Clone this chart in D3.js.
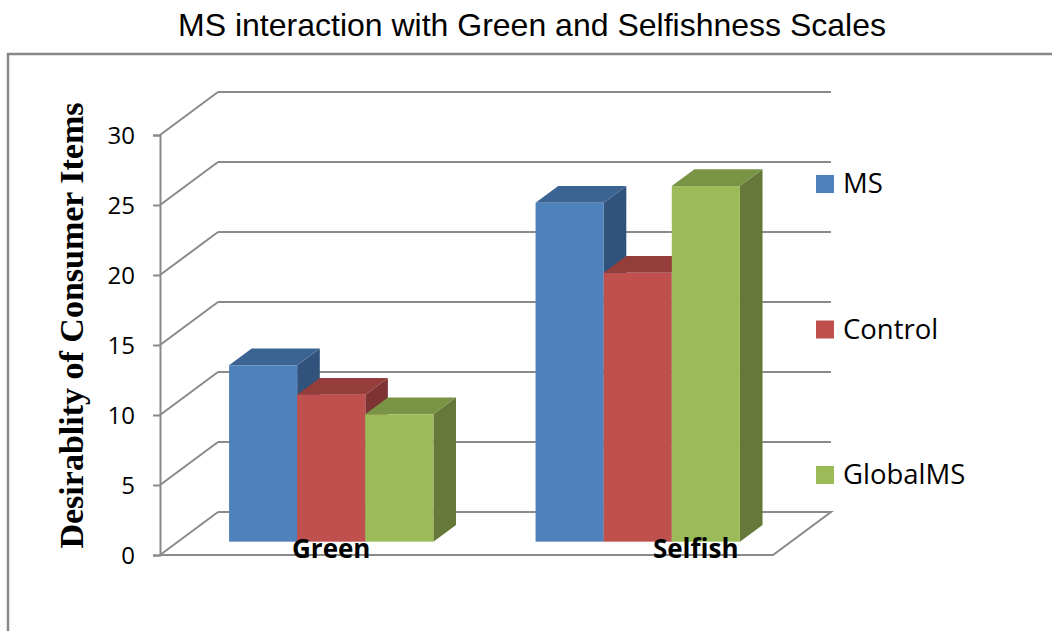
<!DOCTYPE html>
<html>
<head>
<meta charset="utf-8">
<script src="https://cdnjs.cloudflare.com/ajax/libs/d3/7.8.5/d3.min.js"></script>
<style>
  html, body { margin: 0; padding: 0; background: #fff; }
  svg { display: block; }
</style>
</head>
<body>
<svg id="chart" width="1052" height="631"></svg>
<script>
// ---- data ----
const categories = ["Green", "Selfish"];
const seriesNames = ["MS", "Control", "GlobalMS"];
const msValues = [12.6, 24.2];
const controlValues = [10.5, 19.2];
const globalMSValues = [9.1, 25.4];
const yTicks = [0, 5, 10, 15, 20, 25, 30];
const titleText = "MS interaction with Green and Selfishness Scales";
const yTitleText = "Desirablity of Consumer Items";

const seriesValues = [msValues, controlValues, globalMSValues];
const frontColors = ["#4F81BD", "#C0504D", "#9BBB59"];
const topColors = ["#3C6493", "#943D3A", "#7A9446"];
const sideColors = ["#31527A", "#7D3432", "#66793A"];

// ---- layout ----
const svg = d3.select("#chart");
const plotLeft = 160, plotRight = 773;
const yFront0 = 555, yFront30 = 135;
const depthDX = 58, depthDY = -43;
const barD0 = 0.31, barD1 = 0.70;
const gridColor = "#8a8a8a";

const y = d3.scaleLinear().domain([0, 30]).range([yFront0, yFront30]);
const x = d3.scaleBand().domain(categories).range([plotLeft, plotRight])
  .paddingInner(1 / 3).paddingOuter(1 / 6);
const xs = d3.scaleBand().domain(seriesNames).range([0, x.bandwidth()]);

function P(px, v, d) { return [px + d * depthDX, y(v) + d * depthDY]; }
const line = d3.line();

// chart area border
svg.append("rect").attr("x", 8).attr("y", 54).attr("width", 1200).attr("height", 800)
  .attr("fill", "none").attr("stroke", "#888").attr("stroke-width", 2.5);

// title
svg.append("text").attr("x", 532).attr("y", 36).attr("text-anchor", "middle")
  .attr("font-family", "Liberation Sans, Arial, sans-serif").attr("font-size", 32)
  .attr("fill", "#000").text(titleText);

const g = svg.append("g");

// back wall gridlines & left wall diagonals
yTicks.forEach(t => {
  if (t > 0) {
    g.append("path").attr("d", line([P(plotLeft, t, 1), P(plotRight, t, 1)]))
      .attr("stroke", gridColor).attr("stroke-width", 2).attr("fill", "none");
  }
  g.append("path").attr("d", line([P(plotLeft, t, 0), P(plotLeft, t, 1)]))
    .attr("stroke", gridColor).attr("stroke-width", 2).attr("fill", "none");
});
// floor
g.append("path").attr("d", line([P(plotLeft, 0, 1), P(plotRight, 0, 1), P(plotRight, 0, 0), P(plotLeft, 0, 0)]))
  .attr("stroke", gridColor).attr("stroke-width", 2).attr("fill", "none");

// y axis
const yAxis = d3.axisLeft(y).tickValues(yTicks).tickSize(7).tickPadding(18);
const ya = g.append("g").attr("transform", `translate(${plotLeft},0)`).call(yAxis);
ya.select(".domain").attr("stroke", gridColor).attr("stroke-width", 2);
ya.selectAll(".tick line").attr("stroke", gridColor).attr("stroke-width", 2);
ya.selectAll(".tick text").attr("font-family", "Open Sans, sans-serif").attr("font-size", 24)
  .attr("fill", "#000").attr("dy", "0.36em");

// bars
const barsG = svg.append("g");
categories.forEach((cat, ci) => {
  seriesNames.forEach((s, si) => {
    const v = seriesValues[si][ci];
    const x0 = x(cat) + xs(s), x1 = x0 + xs.bandwidth();
    const bg = barsG.append("g");
    // side
    bg.append("path").attr("d", line([P(x1, 0, barD0), P(x1, 0, barD1), P(x1, v, barD1), P(x1, v, barD0)]) + "Z")
      .attr("fill", sideColors[si]);
    // top
    bg.append("path").attr("d", line([P(x0, v, barD0), P(x1, v, barD0), P(x1, v, barD1), P(x0, v, barD1)]) + "Z")
      .attr("fill", topColors[si]);
    // front
    const a = P(x0, v, barD0), b = P(x1, 0, barD0);
    bg.append("rect").attr("x", a[0]).attr("y", a[1]).attr("width", b[0] - a[0]).attr("height", b[1] - a[1])
      .attr("fill", frontColors[si]);
  });
});

// category labels
const labelShift = [0, 58];
categories.forEach((cat, ci) => {
  const cx = x(cat) + x.bandwidth() / 2 + barD0 * depthDX + labelShift[ci];
  svg.append("text").attr("x", cx).attr("y", 558).attr("text-anchor", "middle")
    .attr("font-family", "Open Sans, sans-serif").attr("font-weight", "bold").attr("font-size", 26)
    .attr("fill", "#000").text(cat);
});

// legend
const legendY = d3.scalePoint().domain(seriesNames).range([175, 466]);
seriesNames.forEach((s, si) => {
  svg.append("rect").attr("x", 816).attr("y", legendY(s)).attr("width", 18).attr("height", 18)
    .attr("fill", frontColors[si]);
  svg.append("text").attr("x", 843).attr("y", legendY(s) + 18)
    .attr("font-family", "Open Sans, sans-serif").attr("font-size", 27.5).attr("fill", "#000").text(s);
});

// y title
svg.append("text").attr("transform", "translate(83,325.5) rotate(-90)").attr("text-anchor", "middle")
  .attr("font-family", "Liberation Serif, Times New Roman, serif").attr("font-weight", "bold")
  .attr("font-size", 34).attr("fill", "#000").text(yTitleText);
</script>
</body>
</html>
